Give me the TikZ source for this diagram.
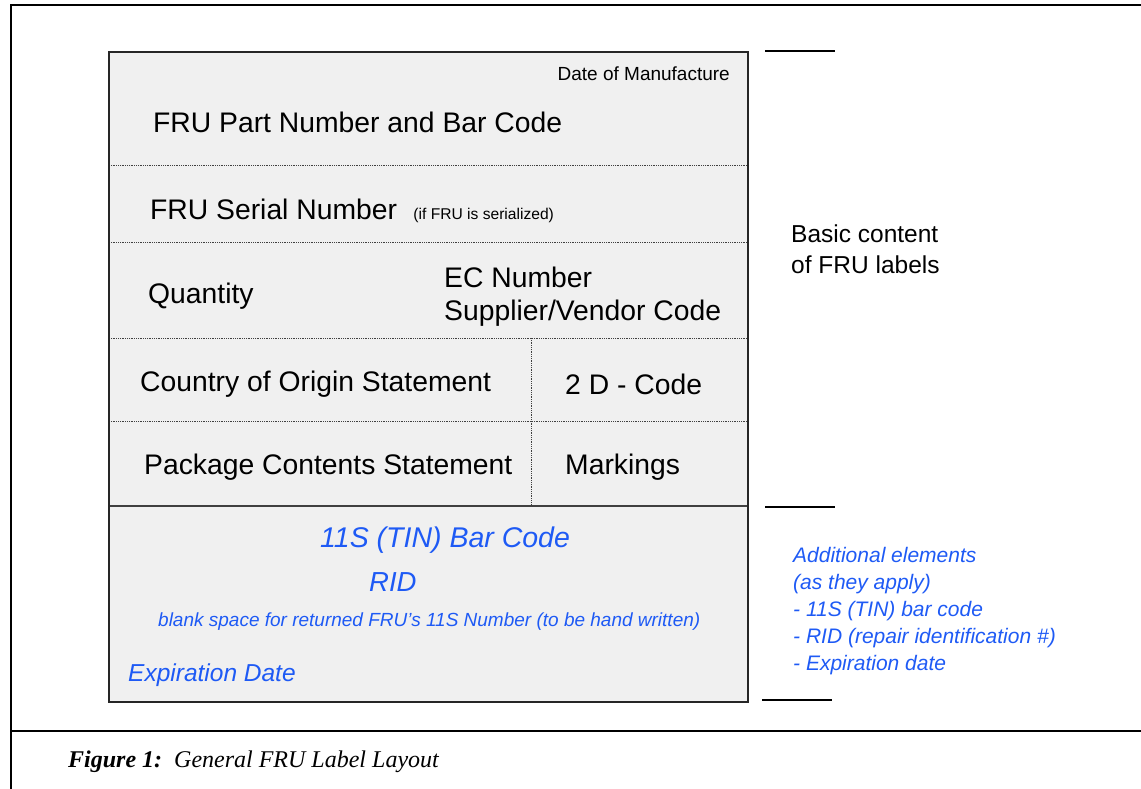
\documentclass[tikz,border=0pt]{standalone}
\usepackage{fontspec}
\setmainfont{Liberation Sans}
\newfontfamily\capfont{Liberation Serif}
\definecolor{labelgray}{RGB}{240,240,240}
\definecolor{addblue}{RGB}{30,90,245}
\newcommand{\fsz}[1]{\fontsize{#1}{#1}\selectfont}
\begin{document}
\begin{tikzpicture}[x=1pt,y=-1pt,
    field/.style={anchor=west,inner sep=0pt,font=\fsz{28.3}},
    addfield/.style={anchor=west,inner sep=0pt,text=addblue,font=\fsz{25}\itshape},
    sep/.style={line width=0.8pt,dash pattern=on 1pt off 0.8pt,black!75},
    tick/.style={line width=1.2pt}]
  \useasboundingbox (0,0) rectangle (1141,789);
  % page frame
  \draw[line width=2.5pt] (11,789) -- (11,5) -- (1141,5);
  \draw[line width=2.5pt] (11,731) -- (1141,731);
  % label body
  \fill[labelgray] (109,52) rectangle (748,702);
  \draw[sep] (109,165) -- (748,165);
  \draw[sep] (109,242) -- (748,242);
  \draw[sep] (109,338) -- (748,338);
  \draw[sep] (109,421) -- (748,421);
  \draw[sep] (531,338) -- (531,506);
  \draw[line width=1.5pt,black!75] (109,506) -- (748,506);
  \draw[line width=1.5pt,black!85] (109,52) rectangle (748,702);
  % basic fields
  \node[anchor=east,inner sep=0pt,font=\fsz{19}] (dom) at (730,74) {Date of Manufacture};
  \node[field] (partno) at (153,122) {FRU Part Number and Bar Code};
  \node[field] (serial) at (150,209) {FRU Serial Number};
  \node[anchor=base west,inner sep=0pt,font=\fsz{15.6}] (ifser) at ([xshift=16pt]serial.base east) {(if FRU is serialized)};
  \node[field] (qty) at (148,296) {Quantity};
  \node[field] (ecno) at (444,277) {EC Number};
  \node[field] (vendor) at (444,313) {Supplier/Vendor Code};
  \node[field] (origin) at (140,384) {Country of Origin Statement};
  \node[field] (twod) at (565,384) {2 D - Code};
  \node[field] (pkg) at (144,467) {Package Contents Statement};
  \node[field] (mark) at (565,467) {Markings};
  % additional fields
  \node[addfield,font=\fsz{28.5}\itshape] (tin) at (320,540) {11S (TIN) Bar Code};
  \node[addfield,font=\fsz{27.5}\itshape] (rid) at (369,582) {RID};
  \node[addfield,font=\fsz{19}\itshape] (blank) at (158,622) {blank space for returned FRU{\char"27}s 11S Number (to be hand written)};
  \node[addfield,font=\fsz{24.5}\itshape] (expdate) at (128,675) {Expiration Date};
  % side brackets and notes
  \draw[tick] (765,51) -- (835,51);
  \draw[tick] (765,507) -- (835,507);
  \draw[tick] (762,700) -- (832,700);
  \node[anchor=north west,inner sep=0pt,align=left,font=\fontsize{24.5}{31}\selectfont] (basic) at (791,225) {Basic content\\of FRU labels};
  \node[anchor=north west,inner sep=0pt,align=left,text=addblue,font=\fontsize{21}{27}\selectfont\itshape] (extra) at (793,547)
    {Additional elements\\(as they apply)\\- 11S (TIN) bar code\\- RID (repair identification \#)\\- Expiration date};
  % caption
  \node[anchor=west,inner sep=0pt,font=\fsz{24}\capfont] (caption) at (68,762) {\textbf{\textit{Figure 1:}}\ \ \textit{General FRU Label Layout}};
\end{tikzpicture}
\end{document}
